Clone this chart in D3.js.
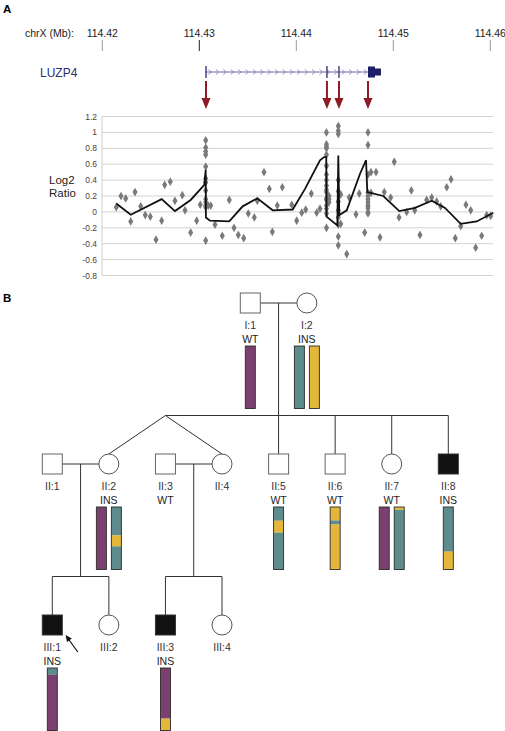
<!DOCTYPE html>
<html><head><meta charset="utf-8">
<script src="https://cdn.jsdelivr.net/npm/d3@7"></script>
<style>body{margin:0;background:#fff}svg{display:block;font-family:"Liberation Sans",Arial,sans-serif}</style>
</head><body><svg id="c" width="505" height="731"></svg>
<script>
// ---------- Panel A data ----------
const tickKb = [0, 10, 20, 30, 40];                 // kb offset from 114.42 Mb
const tickLabels = ["114.42", "114.43", "114.44", "114.45", "114.46"];
const yTicks = [1.2, 1, 0.8, 0.6, 0.4, 0.2, 0, -0.2, -0.4, -0.6, -0.8];
const yTickLabels = ["1.2", "1", "0.8", "0.6", "0.4", "0.2", "0", "-0.2", "-0.4", "-0.6", "-0.8"];
const geneName = "LUZP4";
const geneSpanKb = [10.69, 28.73];
const exonTickKb = [10.69, 23.16, 24.40];
const utrBlockKb = [27.39, 28.11];
const insertionKb = [10.69, 23.16, 24.40, 27.39];
const probes = [
  [1.44,0.06],[1.93,0.20],[2.41,0.17],[2.93,-0.12],[3.37,0.25],[3.96,0.07],[4.43,-0.04],[4.95,-0.06],
  [5.54,-0.35],[6.12,-0.11],[6.43,0.34],[7.01,0.38],[7.49,0.14],[8.25,0.21],[8.53,0.02],[9.11,-0.26],
  [9.73,-0.11],[10.10,0.09],
  [10.66,0.90],[10.66,0.81],[10.66,0.76],[10.66,0.72],[10.66,0.57],[10.66,0.42],[10.66,0.37],[10.66,0.27],
  [10.66,0.16],[10.66,0.12],[10.66,0.08],[10.66,0.06],[10.66,-0.36],
  [10.93,0.08],[11.18,0.08],[11.62,-0.16],[12.37,-0.30],[13.09,0.15],[13.58,-0.20],[14.02,-0.29],
  [14.58,-0.33],[15.05,-0.02],[15.67,-0.07],[15.98,0.14],[16.67,0.50],[17.22,0.29],[17.53,-0.25],
  [18.04,0.08],[18.56,0.31],[19.53,0.09],[20.04,-0.11],[20.56,-0.01],[20.97,0.03],[21.55,0.23],
  [22.10,-0.01],[22.44,0.04],
  [23.11,1.00],[23.11,0.85],[23.11,0.82],[23.11,0.80],[23.11,0.72],[23.11,0.58],[23.11,0.47],[23.11,0.40],
  [23.11,0.33],[23.11,0.28],[23.11,0.25],[23.11,0.17],[23.11,0.15],[23.11,0.08],[23.11,0.04],[23.11,-0.02],
  [23.11,-0.20],[23.37,0.20],[23.37,0.16],[23.37,0.12],
  [24.33,1.08],[24.33,1.02],[24.33,0.98],[24.33,0.40],[24.33,0.26],[24.33,0.13],[24.33,0.02],[24.33,-0.07],
  [24.33,-0.16],[24.33,-0.31],[24.33,-0.42],[24.58,-0.15],[24.58,0.22],
  [25.20,-0.53],[25.46,0.18],[26.15,-0.03],[26.49,0.23],[27.05,-0.26],
  [27.39,1.00],[27.39,0.84],[27.39,0.47],[27.39,0.24],[27.39,0.20],[27.39,0.16],[27.39,0.12],[27.39,0.08],
  [27.39,0.05],[27.39,0.00],[27.39,-0.02],[27.70,0.50],[27.70,0.24],[28.22,0.50],
  [28.63,-0.32],[29.07,0.25],[29.73,0.18],[30.10,0.63],[30.59,-0.07],[31.38,0.00],[31.86,0.27],
  [32.21,0.02],[32.75,-0.29],[33.44,0.15],[33.96,0.18],[34.47,0.13],[34.89,0.07],[35.51,0.31],
  [35.95,0.41],[36.39,-0.33],[36.95,-0.18],[37.49,0.09],[37.98,0.02],[38.49,-0.45],[39.11,-0.30],
  [39.63,-0.04],[40.04,-0.05]
];
const segKb =   [1.44, 2.93, 6.12, 7.49, 9.11, 10.52, 10.66, 10.68, 11.10, 13.09, 14.47, 15.98, 17.57, 19.63,
                 20.90, 22.44, 22.86, 23.09, 23.12, 24.23, 24.33, 24.43, 25.20, 26.57, 27.19, 27.32, 28.97,
                 30.62, 32.24, 33.96, 35.33, 36.95, 38.60, 40.31];
const segLog2 = [0.105, -0.035, 0.16, 0.01, 0.15, 0.34, 0.53, -0.07, -0.11, -0.12, 0.07, 0.17, 0.02, 0.03,
                 0.29, 0.65, 0.69, 0.69, -0.06, -0.17, 0.71, -0.04, 0.02, 0.48, 0.65, 0.25, 0.20,
                 0.01, 0.05, 0.14, 0.05, -0.15, -0.12, -0.01];

// ---------- Panel B data ----------
const people = [
  {id:"I:1",   gen:0, slot:3.5, sex:"M", affected:false, genotype:"WT"},
  {id:"I:2",   gen:0, slot:4.5, sex:"F", affected:false, genotype:"INS"},
  {id:"II:1",  gen:1, slot:0, sex:"M", affected:false, genotype:""},
  {id:"II:2",  gen:1, slot:1, sex:"F", affected:false, genotype:"INS"},
  {id:"II:3",  gen:1, slot:2, sex:"M", affected:false, genotype:"WT"},
  {id:"II:4",  gen:1, slot:3, sex:"F", affected:false, genotype:""},
  {id:"II:5",  gen:1, slot:4, sex:"M", affected:false, genotype:"WT"},
  {id:"II:6",  gen:1, slot:5, sex:"M", affected:false, genotype:"WT"},
  {id:"II:7",  gen:1, slot:6, sex:"F", affected:false, genotype:"WT"},
  {id:"II:8",  gen:1, slot:7, sex:"M", affected:true,  genotype:"INS"},
  {id:"III:1", gen:2, slot:0, sex:"M", affected:true,  genotype:"INS"},
  {id:"III:2", gen:2, slot:1, sex:"F", affected:false, genotype:""},
  {id:"III:3", gen:2, slot:2, sex:"M", affected:true,  genotype:"INS"},
  {id:"III:4", gen:2, slot:3, sex:"F", affected:false, genotype:""}
];
const couples = [
  {parents:["I:1","I:2"], children:["II:2","II:4","II:5","II:6","II:7","II:8"], twinPair:["II:2","II:4"]},
  {parents:["II:1","II:2"], children:["III:1","III:2"]},
  {parents:["II:3","II:4"], children:["III:3","III:4"]}
];
const proband = "III:1";
// haplotype bars: segments [from, to, allele] as fractions of the bar, top to bottom
const haplotypes = {
  "I:1":   [[[0,1,"P"]]],
  "I:2":   [[[0,1,"T"]], [[0,1,"Y"]]],
  "II:2":  [[[0,1,"P"]], [[0,0.455,"T"],[0.455,0.63,"Y"],[0.63,1,"T"]]],
  "II:5":  [[[0,0.22,"T"],[0.22,0.41,"Y"],[0.41,1,"T"]]],
  "II:6":  [[[0,0.215,"Y"],[0.215,0.28,"T"],[0.28,1,"Y"]]],
  "II:7":  [[[0,1,"P"]], [[0,0.045,"Y"],[0.045,1,"T"]]],
  "II:8":  [[[0,0.715,"T"],[0.715,1,"Y"]]],
  "III:1": [[[0,0.11,"T"],[0.11,1,"P"]]],
  "III:3": [[[0,0.81,"P"],[0.81,1,"Y"]]]
};
const alleleColor = {P:"#7b3f70", T:"#5e8b8b", Y:"#e4b73a"};

// ---------- drawing ----------
const svg = d3.select("#c");
const x = d3.scaleLinear().domain([0, 40]).range([102.3, 490.3]);
const y = d3.scaleLinear().domain([-0.8, 1.2]).range([275.5, 116.5]);

svg.append("text").attr("x", 3).attr("y", 13).attr("font-size", 11.5).attr("font-weight", "bold").text("A");
svg.append("text").attr("x", 3).attr("y", 302).attr("font-size", 11.5).attr("font-weight", "bold").text("B");

// genome axis
svg.append("text").attr("x", 25).attr("y", 36.5).attr("font-size", 10.5).attr("fill", "#222").text("chrX (Mb):");
const ga = svg.append("g");
ga.selectAll("text").data(tickKb).join("text")
  .attr("x", d => x(d)).attr("y", 36.5).attr("text-anchor", "middle").attr("font-size", 10.5).attr("fill", "#222")
  .text((d, i) => tickLabels[i]);
ga.selectAll("line").data(tickKb).join("line")
  .attr("x1", d => x(d)).attr("x2", d => x(d)).attr("y1", 40).attr("y2", 51)
  .attr("stroke", (d, i) => i === 1 ? "#222" : "#999").attr("stroke-width", 1);

// gene track
const gc = "#2a2a6e";
svg.append("text").attr("x", 40).attr("y", 76.5).attr("font-size", 12).attr("fill", "#2e2e70").text(geneName);
const gy = 72;
svg.append("line").attr("x1", x(geneSpanKb[0])).attr("x2", x(utrBlockKb[0])).attr("y1", gy).attr("y2", gy)
  .attr("stroke", "#6a6aa6").attr("stroke-width", 1);
const chev = d3.range(x(geneSpanKb[0]) + 4, x(utrBlockKb[0]) - 2, 7.4);
svg.append("g").selectAll("path").data(chev).join("path")
  .attr("d", d => `M${d - 1.5},${gy - 2.5}L${d + 1.5},${gy}L${d - 1.5},${gy + 2.5}`)
  .attr("fill", "none").attr("stroke", "#8080b4").attr("stroke-width", 0.8);
svg.append("g").selectAll("line").data(exonTickKb).join("line")
  .attr("x1", d => x(d)).attr("x2", d => x(d)).attr("y1", gy - 6).attr("y2", gy + 6)
  .attr("stroke", gc).attr("stroke-width", 1.3);
svg.append("rect").attr("x", x(utrBlockKb[0])).attr("y", gy - 5.5)
  .attr("width", x(utrBlockKb[1]) - x(utrBlockKb[0])).attr("height", 11).attr("fill", "#1e1e66");
svg.append("rect").attr("x", x(utrBlockKb[1])).attr("y", gy - 3.5)
  .attr("width", x(geneSpanKb[1]) - x(utrBlockKb[1])).attr("height", 7).attr("fill", "#1e1e66");

// insertion arrows
const ac = "#8e1b25";
const ag = svg.append("g");
insertionKb.forEach(k => {
  const xx = x(k);
  ag.append("line").attr("x1", xx).attr("x2", xx).attr("y1", 81).attr("y2", 99).attr("stroke", ac).attr("stroke-width", 2);
  ag.append("path").attr("d", `M${xx - 4.5},98L${xx + 4.5},98L${xx},109Z`).attr("fill", ac);
});

// log2 plot
const pl = svg.append("g");
pl.selectAll("line.g").data(yTicks).join("line").attr("class", "g")
  .attr("x1", 102).attr("x2", 493).attr("y1", d => y(d)).attr("y2", d => y(d))
  .attr("stroke", "#d2d2d2").attr("stroke-width", 1);
pl.append("line").attr("x1", 102).attr("x2", 102).attr("y1", y(1.2)).attr("y2", y(-0.8)).attr("stroke", "#cfcfcf");
pl.selectAll("text").data(yTicks).join("text")
  .attr("x", 97).attr("y", d => y(d) + 3).attr("text-anchor", "end").attr("font-size", 8.5).attr("fill", "#444")
  .text((d, i) => yTickLabels[i]);
svg.append("text").attr("x", 49).attr("y", 184).attr("font-size", 11.5).attr("fill", "#222").text("Log2");
svg.append("text").attr("x", 49).attr("y", 197).attr("font-size", 11.5).attr("fill", "#222").text("Ratio");
const diamond = d3.symbol().type(d3.symbolDiamond).size(22);
pl.append("g").selectAll("path").data(probes).join("path")
  .attr("transform", d => `translate(${x(d[0])},${y(d[1])})`).attr("d", diamond).attr("fill", "#7a7a7a");
pl.append("path").datum(segKb.map((k, i) => [k, segLog2[i]]))
  .attr("d", d3.line().x(d => x(d[0])).y(d => y(d[1])))
  .attr("fill", "none").attr("stroke", "#111").attr("stroke-width", 1.8).attr("stroke-linejoin", "miter");

// ---------- pedigree ----------
const px = d3.scaleLinear().domain([0, 7]).range([52.3, 448.3]);
const py = d3.scaleLinear().domain([0, 2]).range([303, 625]);
const byId = Object.fromEntries(people.map(p => [p.id, p]));
const P = id => ({x: px(byId[id].slot), y: py(byId[id].gen)});
const S = 10;
const ped = svg.append("g").attr("stroke", "#333").attr("stroke-width", 1).attr("fill", "none");
couples.forEach(c => {
  const a = P(c.parents[0]), b = P(c.parents[1]);
  ped.append("line").attr("x1", a.x + S).attr("x2", b.x - S).attr("y1", a.y).attr("y2", a.y);
  const mx = (a.x + b.x) / 2;
  const childTop = P(c.children[0]).y - S;
  const sy = childTop - 38.5;
  const twins = c.twinPair || [];
  const singles = c.children.filter(k => !twins.includes(k));
  let xs = singles.map(k => P(k).x);
  let apex = null;
  if (twins.length) {
    apex = (P(twins[0]).x + P(twins[1]).x) / 2;
    xs.push(apex);
  }
  xs.push(mx);
  ped.append("line").attr("x1", d3.min(xs)).attr("x2", d3.max(xs)).attr("y1", sy).attr("y2", sy);
  ped.append("line").attr("x1", mx).attr("x2", mx).attr("y1", a.y).attr("y2", sy);
  singles.forEach(k => {
    const q = P(k);
    ped.append("line").attr("x1", q.x).attr("x2", q.x).attr("y1", sy).attr("y2", q.y - S);
  });
  twins.forEach(k => {
    const q = P(k);
    ped.append("line").attr("x1", apex).attr("x2", q.x).attr("y1", sy).attr("y2", q.y - S);
  });
});
people.forEach(p => {
  const q = P(p.id);
  if (p.sex === "M") {
    ped.append("rect").attr("x", q.x - S).attr("y", q.y - S).attr("width", 2 * S).attr("height", 2 * S)
      .attr("fill", p.affected ? "#111" : "#fff").attr("stroke", p.affected ? "#333" : "#666");
  } else {
    ped.append("circle").attr("cx", q.x).attr("cy", q.y).attr("r", S)
      .attr("fill", p.affected ? "#111" : "#fff").attr("stroke", "#555");
  }
  svg.append("text").attr("x", q.x).attr("y", q.y + 26).attr("text-anchor", "middle")
    .attr("font-size", 10.5).attr("fill", "#333").text(p.id);
  if (p.genotype) svg.append("text").attr("x", q.x).attr("y", q.y + 39.5).attr("text-anchor", "middle")
    .attr("font-size", 10.5).attr("fill", "#222").text(p.genotype);
  const bars = haplotypes[p.id];
  if (bars) {
    const bw = 10, bh = 62.5, gap = 5;
    const total = bars.length * bw + (bars.length - 1) * gap;
    bars.forEach((segs, i) => {
      const bx = q.x - total / 2 + i * (bw + gap);
      const by = q.y + 43;
      const hs = d3.scaleLinear().domain([0, 1]).range([by, by + bh]);
      segs.forEach(s => {
        svg.append("rect").attr("x", bx).attr("y", hs(s[0])).attr("width", bw).attr("height", hs(s[1]) - hs(s[0]))
          .attr("fill", alleleColor[s[2]]);
      });
      svg.append("rect").attr("x", bx).attr("y", by).attr("width", bw).attr("height", bh)
        .attr("fill", "none").attr("stroke", "#2b2b2b").attr("stroke-width", 0.9);
    });
  }
});
// proband arrow
const pb = P(proband);
svg.append("line").attr("x1", pb.x + 25.5).attr("y1", pb.y + 27).attr("x2", pb.x + 15).attr("y2", pb.y + 12.5)
  .attr("stroke", "#111").attr("stroke-width", 1.2);
svg.append("path").attr("d", `M${pb.x + 13.3},${pb.y + 10}L${pb.x + 19.5},${pb.y + 13.5}L${pb.x + 14.7},${pb.y + 17}Z`).attr("fill", "#111");
</script></body></html>
